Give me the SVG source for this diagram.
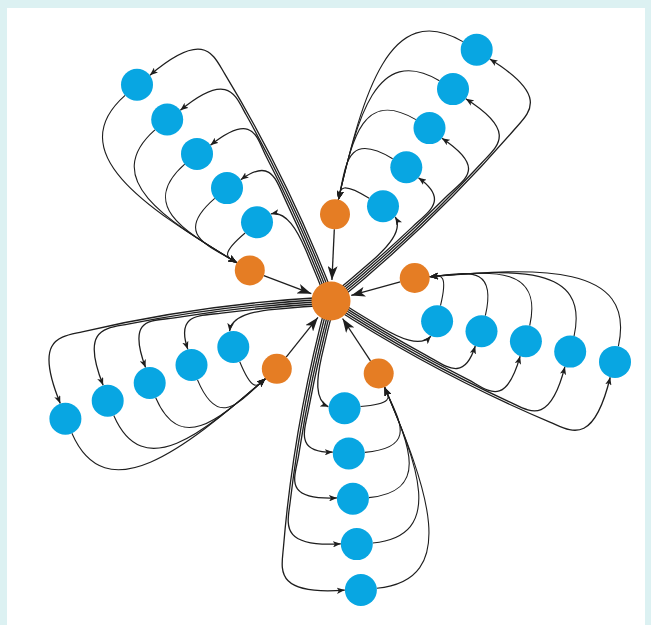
<svg xmlns="http://www.w3.org/2000/svg" width="651" height="625" viewBox="0 0 651 625">
<style>
.e{fill:none;stroke:#1e1e1e;stroke-width:1.1}
.cb{stroke-width:1.3;marker-end:url(#aS)}
.bo{marker-end:url(#aM)}
.oc{stroke-width:1.3;marker-end:url(#aL)}
.b{fill:#08a6e2}
.o{fill:#e57d24}
</style>
<defs>
<marker id="aS" viewBox="0 0 10 8" refX="10" refY="4" markerWidth="8" markerHeight="6.4" markerUnits="userSpaceOnUse" orient="auto"><path d="M0,0 L10,4 L0,8 L2.5,4 z" fill="#1e1e1e"/></marker>
<marker id="aM" viewBox="0 0 10 8" refX="10" refY="4" markerWidth="9" markerHeight="7" markerUnits="userSpaceOnUse" orient="auto"><path d="M0,0 L10,4 L0,8 L2.5,4 z" fill="#1e1e1e"/></marker>
<marker id="aL" viewBox="0 0 14 10" refX="14" refY="5" markerWidth="14" markerHeight="10" markerUnits="userSpaceOnUse" orient="auto"><path d="M0,0 L14,5 L0,10 L3.5,5 z" fill="#1e1e1e"/></marker>
</defs>
<rect x="0" y="0" width="651" height="625" fill="#dcf1f2"/>
<rect x="7" y="8" width="638" height="617" fill="#ffffff"/>
<g id="connectors">
<g id="arm-right" transform="translate(331 301) rotate(12.1)">
<path class="e cb" d="M0,-4.4 Q27.5,6.05 55,15.3 C75,22 97,27 105,13.5"/>
<path class="e cb" d="M0,-2.2 Q52.5,17.75 105,33.3 C126.1,39.5 147,52 150.5,13.8"/>
<path class="e cb" d="M0,0 Q75,28.5 150,48 C171.3,53.5 193,70 196.5,14.3"/>
<path class="e cb" d="M0,2.2 Q97.5,39.25 195,61.1 C216.5,65.9 240,78 242.5,15.2"/>
<path class="e cb" d="M0,4.4 Q120,50 240,72.6 C261.6,76.7 287,88 289,16"/>
<path class="e bo" d="M108,-18.5 C109,-55 100.3,-47.2 91.3,-44.4"/>
<path class="e bo" d="M154,-18 C155,-73 124.2,-54.5 91.3,-44.4"/>
<path class="e bo" d="M199.5,-17.5 C200,-81 148.1,-61.9 91.3,-44.4"/>
<path class="e bo" d="M245,-16.7 C245.5,-90.5 172,-69.2 91.3,-44.4"/>
<path class="e bo" d="M290.5,-16 C291,-101 196.2,-76.7 91.3,-44.4"/>
<path class="e oc" d="M63.7,-33.1 L18.6,-9.7"/>
</g>
<g id="arm-bottom" transform="translate(331 301) rotate(84.1)">
<path class="e cb" d="M0,-4.4 Q27.5,6.05 55,15.3 C75,22 97,27 105,13.5"/>
<path class="e cb" d="M0,-2.2 Q52.5,17.75 105,33.3 C126.1,39.5 147,52 150.5,13.8"/>
<path class="e cb" d="M0,0 Q75,28.5 150,48 C171.3,53.5 193,70 196.5,14.3"/>
<path class="e cb" d="M0,2.2 Q97.5,39.25 195,61.1 C216.5,65.9 240,78 242.5,15.2"/>
<path class="e cb" d="M0,4.4 Q120,50 240,72.6 C261.6,76.7 287,88 289,16"/>
<path class="e bo" d="M108,-18.5 C109,-55 100.3,-47.2 91.3,-44.4"/>
<path class="e bo" d="M154,-18 C155,-73 124.2,-54.5 91.3,-44.4"/>
<path class="e bo" d="M199.5,-17.5 C200,-81 148.1,-61.9 91.3,-44.4"/>
<path class="e bo" d="M245,-16.7 C245.5,-90.5 172,-69.2 91.3,-44.4"/>
<path class="e bo" d="M290.5,-16 C291,-101 196.2,-76.7 91.3,-44.4"/>
<path class="e oc" d="M63.7,-33.1 L18.6,-9.7"/>
</g>
<g id="arm-lowerleft" transform="translate(331 301) rotate(156.1)">
<path class="e cb" d="M0,-4.4 Q27.5,6.05 55,15.3 C75,22 97,27 105,13.5"/>
<path class="e cb" d="M0,-2.2 Q52.5,17.75 105,33.3 C126.1,39.5 147,52 150.5,13.8"/>
<path class="e cb" d="M0,0 Q75,28.5 150,48 C171.3,53.5 193,70 196.5,14.3"/>
<path class="e cb" d="M0,2.2 Q97.5,39.25 195,61.1 C216.5,65.9 240,78 242.5,15.2"/>
<path class="e cb" d="M0,4.4 Q120,50 240,72.6 C261.6,76.7 287,88 289,16"/>
<path class="e bo" d="M108,-18.5 C109,-55 100.3,-47.2 91.3,-44.4"/>
<path class="e bo" d="M154,-18 C155,-73 124.2,-54.5 91.3,-44.4"/>
<path class="e bo" d="M199.5,-17.5 C200,-81 148.1,-61.9 91.3,-44.4"/>
<path class="e bo" d="M245,-16.7 C245.5,-90.5 172,-69.2 91.3,-44.4"/>
<path class="e bo" d="M290.5,-16 C291,-101 196.2,-76.7 91.3,-44.4"/>
<path class="e oc" d="M63.7,-33.1 L18.6,-9.7"/>
</g>
<g id="arm-upperleft" transform="translate(331 301) rotate(228.1)">
<path class="e cb" d="M0,-4.4 Q27.5,6.05 55,15.3 C75,22 97,27 105,13.5"/>
<path class="e cb" d="M0,-2.2 Q52.5,17.75 105,33.3 C126.1,39.5 147,52 150.5,13.8"/>
<path class="e cb" d="M0,0 Q75,28.5 150,48 C171.3,53.5 193,70 196.5,14.3"/>
<path class="e cb" d="M0,2.2 Q97.5,39.25 195,61.1 C216.5,65.9 240,78 242.5,15.2"/>
<path class="e cb" d="M0,4.4 Q120,50 240,72.6 C261.6,76.7 287,88 289,16"/>
<path class="e bo" d="M108,-18.5 C109,-55 100.3,-47.2 91.3,-44.4"/>
<path class="e bo" d="M154,-18 C155,-73 124.2,-54.5 91.3,-44.4"/>
<path class="e bo" d="M199.5,-17.5 C200,-81 148.1,-61.9 91.3,-44.4"/>
<path class="e bo" d="M245,-16.7 C245.5,-90.5 172,-69.2 91.3,-44.4"/>
<path class="e bo" d="M290.5,-16 C291,-101 196.2,-76.7 91.3,-44.4"/>
<path class="e oc" d="M63.7,-33.1 L18.6,-9.7"/>
</g>
<g id="arm-upperright" transform="translate(331 301) rotate(300.1)">
<path class="e cb" d="M0,-4.4 Q27.5,6.05 55,15.3 C75,22 97,27 105,13.5"/>
<path class="e cb" d="M0,-2.2 Q52.5,17.75 105,33.3 C126.1,39.5 147,52 150.5,13.8"/>
<path class="e cb" d="M0,0 Q75,28.5 150,48 C171.3,53.5 193,70 196.5,14.3"/>
<path class="e cb" d="M0,2.2 Q97.5,39.25 195,61.1 C216.5,65.9 240,78 242.5,15.2"/>
<path class="e cb" d="M0,4.4 Q120,50 240,72.6 C261.6,76.7 287,88 289,16"/>
<path class="e bo" d="M108,-18.5 C109,-55 100.3,-47.2 91.3,-44.4"/>
<path class="e bo" d="M154,-18 C155,-73 124.2,-54.5 91.3,-44.4"/>
<path class="e bo" d="M199.5,-17.5 C200,-81 148.1,-61.9 91.3,-44.4"/>
<path class="e bo" d="M245,-16.7 C245.5,-90.5 172,-69.2 91.3,-44.4"/>
<path class="e bo" d="M290.5,-16 C291,-101 196.2,-76.7 91.3,-44.4"/>
<path class="e oc" d="M63.7,-33.1 L18.6,-9.7"/>
</g>
</g>
<g id="hub"><circle class="o" cx="331" cy="301" r="19.5"/></g>
<g id="o-right"><circle class="o" cx="414.7" cy="278" r="15"/></g>
<g id="o-bottom"><circle class="o" cx="378.7" cy="373.5" r="15"/></g>
<g id="o-lowerleft"><circle class="o" cx="276.8" cy="368.8" r="15"/></g>
<g id="o-upperleft"><circle class="o" cx="249.8" cy="270.4" r="15"/></g>
<g id="o-upperright"><circle class="o" cx="335" cy="214.3" r="15"/></g>
<g id="b-right-1"><circle class="b" cx="437.1" cy="321.2" r="16"/></g>
<g id="b-right-2"><circle class="b" cx="481.5" cy="331.2" r="16"/></g>
<g id="b-right-3"><circle class="b" cx="525.9" cy="341.2" r="16"/></g>
<g id="b-right-4"><circle class="b" cx="570.2" cy="351.6" r="16"/></g>
<g id="b-right-5"><circle class="b" cx="615" cy="361.9" r="16"/></g>
<g id="b-bottom-1"><circle class="b" cx="344.6" cy="408.2" r="16"/></g>
<g id="b-bottom-2"><circle class="b" cx="348.8" cy="453.5" r="16"/></g>
<g id="b-bottom-3"><circle class="b" cx="352.9" cy="498.8" r="16"/></g>
<g id="b-bottom-4"><circle class="b" cx="356.8" cy="544.1" r="16"/></g>
<g id="b-bottom-5"><circle class="b" cx="360.9" cy="590" r="16"/></g>
<g id="b-lowerleft-1"><circle class="b" cx="233.3" cy="347" r="16"/></g>
<g id="b-lowerleft-2"><circle class="b" cx="191.5" cy="365" r="16"/></g>
<g id="b-lowerleft-3"><circle class="b" cx="149.7" cy="383" r="16"/></g>
<g id="b-lowerleft-4"><circle class="b" cx="107.7" cy="400.7" r="16"/></g>
<g id="b-lowerleft-5"><circle class="b" cx="65.4" cy="418.7" r="16"/></g>
<g id="b-upperleft-1"><circle class="b" cx="257" cy="222.3" r="16"/></g>
<g id="b-upperleft-2"><circle class="b" cx="227" cy="188.1" r="16"/></g>
<g id="b-upperleft-3"><circle class="b" cx="197" cy="153.9" r="16"/></g>
<g id="b-upperleft-4"><circle class="b" cx="167.2" cy="119.5" r="16"/></g>
<g id="b-upperleft-5"><circle class="b" cx="137" cy="84.8" r="16"/></g>
<g id="b-upperright-1"><circle class="b" cx="383" cy="206.3" r="16"/></g>
<g id="b-upperright-2"><circle class="b" cx="406.3" cy="167.2" r="16"/></g>
<g id="b-upperright-3"><circle class="b" cx="429.5" cy="128.1" r="16"/></g>
<g id="b-upperright-4"><circle class="b" cx="453" cy="89.1" r="16"/></g>
<g id="b-upperright-5"><circle class="b" cx="476.7" cy="49.7" r="16"/></g>
</svg>
